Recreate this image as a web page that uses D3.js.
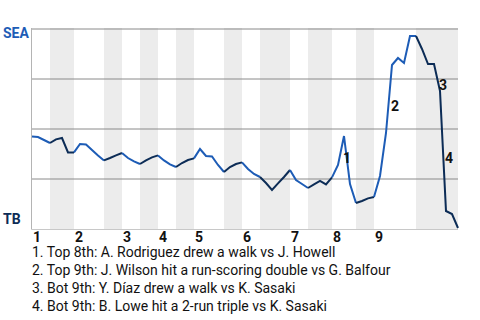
<!DOCTYPE html>
<html>
<head>
<meta charset="utf-8">
<script src="https://cdn.jsdelivr.net/npm/d3@7"></script>
<style>
  body { margin: 0; background: #fff; }
  svg { display: block; font-family: Roboto, sans-serif; }
</style>
</head>
<body>
<svg></svg>
<script>
// Data
const teams = ['SEA', 'TB'];
const teamColors = ['#1d5cb6', '#0c2c56'];

// SEA win probability after each plate appearance (index 0 = first pitch)
const winProb = [
  0.458, 0.455, 0.44, 0.425, 0.443, 0.45, 0.378, 0.378, 0.42, 0.418,
  0.39, 0.363, 0.338, 0.35, 0.363, 0.375, 0.35, 0.333, 0.32, 0.338,
  0.353, 0.363, 0.338, 0.318, 0.305, 0.325, 0.34, 0.348, 0.395, 0.36,
  0.358, 0.315, 0.28, 0.305, 0.32, 0.328, 0.295, 0.27, 0.255, 0.225,
  0.19, 0.223, 0.255, 0.29, 0.24, 0.22, 0.2, 0.218, 0.235, 0.218,
  0.253, 0.315, 0.46, 0.22, 0.125, 0.135, 0.148, 0.155, 0.26, 0.475,
  0.815, 0.85, 0.825, 0.96, 0.96, 0.895, 0.82, 0.82, 0.685, 0.085,
  0.07, 0
];

// plate appearances per half inning (top 1, bot 1, top 2, ...)
const halfInningPAs = [3, 4, 5, 3, 3, 3, 3, 3, 5, 3, 3, 5, 3, 4, 4, 3, 7, 7];
const inningLabels = ['1', '2', '3', '4', '5', '6', '7', '8', '9'];

const eventIndex = [52, 60, 68, 69];
const eventText = [
  'Top 8th: A. Rodriguez drew a walk vs J. Howell',
  'Top 9th: J. Wilson hit a run-scoring double vs G. Balfour',
  'Bot 9th: Y. Díaz drew a walk vs K. Sasaki',
  'Bot 9th: B. Lowe hit a 2-run triple vs K. Sasaki'
];

// Layout
const width = 480;
const height = 320;
const plotLeft = 32;
const plotRight = 458;
const plotTop = 28;
const plotBottom = 228;

const svg = d3.select('svg')
    .attr('width', width)
    .attr('height', height);

const x = d3.scaleLinear()
    .domain([0, winProb.length - 1])
    .range([plotLeft, plotRight]);

const y = d3.scaleLinear()
    .domain([0, 1])
    .range([plotBottom, plotTop]);

// half inning spans
const halves = [];
let start = 0;
halfInningPAs.forEach((n, i) => {
    halves.push({ start: start, end: start + n, bottom: i % 2 === 1, inning: Math.floor(i / 2) });
    start += n;
});

// background bands
svg.append('g')
    .selectAll('rect')
    .data(halves.filter(d => d.bottom)).enter()
    .append('rect')
    .attr('x', d => x(d.start))
    .attr('width', d => x(d.end) - x(d.start))
    .attr('y', plotTop)
    .attr('height', plotBottom - plotTop + 1)
    .attr('fill', '#ececec');

// gridlines
const grid = svg.append('g')
    .attr('transform', `translate(${plotLeft}, 0.5)`)
    .call(d3.axisLeft(y)
        .tickValues([0.25, 0.5, 0.75, 1])
        .tickSize(-(plotRight - plotLeft))
        .tickFormat(''));
grid.select('.domain').remove();
grid.selectAll('line').attr('stroke', '#8a8a8a');

// frame: left and bottom
svg.append('line')
    .attr('x1', plotLeft - 0.5).attr('x2', plotLeft - 0.5)
    .attr('y1', plotTop).attr('y2', plotBottom + 1.5)
    .attr('stroke', '#b4b4b4');
svg.append('line')
    .attr('x1', plotLeft - 0.5).attr('x2', plotRight)
    .attr('y1', plotBottom + 1.5).attr('y2', plotBottom + 1.5)
    .attr('stroke', '#c8c8c8');

// win probability line, coloured by batting team
const line = d3.line()
    .x(d => x(d))
    .y(d => y(winProb[d]));

svg.append('g')
    .selectAll('path')
    .data(halves).enter()
    .append('path')
    .attr('d', d => line(d3.range(d.start, d.end + 1)))
    .attr('fill', 'none')
    .attr('stroke', d => d.bottom ? teamColors[1] : teamColors[0])
    .attr('stroke-width', 2)
    .attr('stroke-linejoin', 'miter');

// team labels
svg.append('text')
    .attr('x', 3)
    .attr('y', plotTop + 10)
    .attr('font-size', 14)
    .attr('font-weight', 'bold')
    .attr('fill', teamColors[0])
    .text(teams[0]);

svg.append('text')
    .attr('x', 3)
    .attr('y', plotBottom - 4)
    .attr('font-size', 14)
    .attr('font-weight', 'bold')
    .attr('fill', teamColors[1])
    .text(teams[1]);

// inning labels
svg.append('g')
    .selectAll('text')
    .data(halves.filter(d => !d.bottom)).enter()
    .append('text')
    .attr('x', d => x(d.start) + 1)
    .attr('y', plotBottom + 14)
    .attr('font-size', 14)
    .attr('font-weight', 'bold')
    .attr('fill', '#111')
    .text(d => inningLabels[d.inning]);

// event markers
svg.append('g')
    .selectAll('text')
    .data(eventIndex).enter()
    .append('text')
    .attr('x', d => (x(d - 1) + x(d)) / 2 + 2)
    .attr('y', d => (y(winProb[d - 1]) + y(winProb[d])) / 2 + 12)
    .attr('font-size', 14)
    .attr('font-weight', 'bold')
    .attr('fill', '#111')
    .text((d, i) => i + 1);

// event list
svg.append('g')
    .selectAll('text')
    .data(eventText).enter()
    .append('text')
    .attr('x', plotLeft)
    .attr('y', (d, i) => 257 + i * 18)
    .attr('font-size', 14)
    .attr('fill', '#111')
    .text((d, i) => `${i + 1}. ${d}`);
</script>
</body>
</html>
